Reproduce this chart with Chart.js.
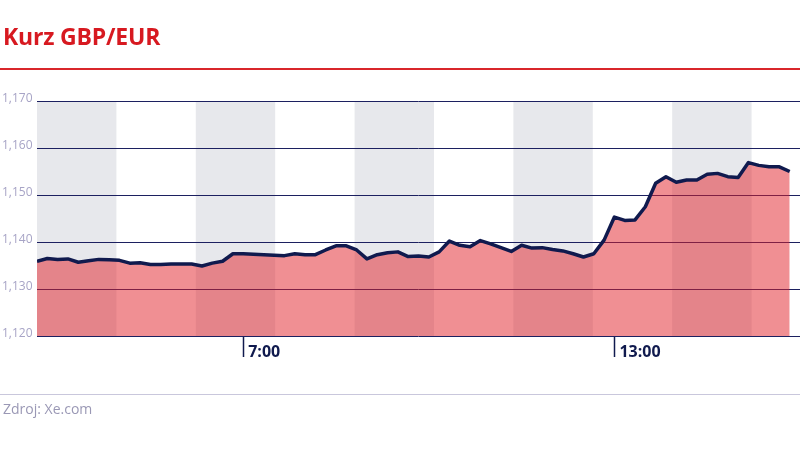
<!DOCTYPE html>
<html>
<head>
<meta charset="utf-8">
<script src="https://cdn.jsdelivr.net/npm/chart.js@4/dist/chart.umd.min.js"></script>
<style>
  html, body { margin: 0; padding: 0; background: #fff; }
  body { width: 800px; height: 449px; position: relative; overflow: hidden; font-family: "Open Sans", sans-serif; }
  #title { position: absolute; left: 3px; top: 21px; font-size: 23px; font-weight: 700; color: #d71920; letter-spacing: -0.2px; line-height: 31px; }
  #rule { position: absolute; left: 0; top: 68px; width: 800px; height: 2px; background: #d9262b; }
  #rule2 { position: absolute; left: 0; top: 394px; width: 800px; height: 1px; background: #c9c7dc; }
  #source { position: absolute; left: 3px; top: 399px; font-size: 14px; color: #9a98b5; }
  #wrap { position: absolute; left: 0; top: 0; width: 800px; height: 449px; }
</style>
</head>
<body>
<div id="wrap"><canvas id="c" width="800" height="449"></canvas></div>
<div id="title">Kurz GBP/EUR</div>
<div id="rule"></div>
<div id="rule2"></div>
<div id="source">Zdroj: Xe.com</div>
<script>
// --- data ---
const startTime = "3:40";          // first quote
const stepMinutes = 10;            // quote interval
const rates = [
  1.1359, 1.1365, 1.1363, 1.1364, 1.1357, 1.1360, 1.1363, 1.1362, 1.1361, 1.1355,
  1.1356, 1.1352, 1.1352, 1.1353, 1.1353, 1.1353, 1.1349, 1.1355, 1.1359, 1.1375,
  1.1375, 1.1374, 1.1373, 1.1372, 1.1371, 1.1375, 1.1373, 1.1373, 1.1383, 1.1392,
  1.1392, 1.1383, 1.1364, 1.1373, 1.1377, 1.1379, 1.1369, 1.1370, 1.1368, 1.1379,
  1.1402, 1.1393, 1.1390, 1.1403, 1.1396, 1.1388, 1.1380, 1.1393, 1.1387, 1.1388,
  1.1384, 1.1381, 1.1375, 1.1368, 1.1375, 1.1404, 1.1453, 1.1446, 1.1447, 1.1475,
  1.1525, 1.1539, 1.1527, 1.1532, 1.1532, 1.1544, 1.1546, 1.1539, 1.1537, 1.1569,
  1.1563, 1.1560, 1.1560, 1.1550
];
const yTicks = [1.12, 1.13, 1.14, 1.15, 1.16, 1.17];
const xTickLabels = ["7:00", "13:00"];
const axisStart = "3:40";
const axisEnd = "16:00";

// --- helpers ---
const toHours = s => { const [h, m] = s.split(":").map(Number); return h + m / 60; };
const times = rates.map((_, i) => {
  const t = toHours(startTime) * 60 + i * stepMinutes;
  return Math.floor(t / 60) + ":" + String(t % 60).padStart(2, "0");
});
const points = rates.map((v, i) => ({ x: toHours(times[i]), y: v }));

const navy = "#101a4e";
const bandHours = 1.2834;

const bandsPlugin = {
  id: "bands",
  beforeDraw(chart) {
    const { ctx, chartArea, scales } = chart;
    const xs = scales.x;
    ctx.save();
    ctx.fillStyle = "#e7e8ec";
    let start = xs.min;
    while (start < xs.max) {
      const l = xs.getPixelForValue(start);
      const r = Math.min(xs.getPixelForValue(start + bandHours), chartArea.right);
      ctx.fillRect(l, chartArea.top, r - l, chartArea.bottom - chartArea.top);
      start += 2 * bandHours;
    }
    ctx.restore();
  }
};

new Chart(document.getElementById("c"), {
  type: "line",
  data: {
    datasets: [{
      data: points,
      borderColor: navy,
      borderWidth: 3.5,
      borderJoinStyle: "round",
      backgroundColor: "rgba(226, 32, 40, 0.5)",
      fill: "start",
      pointRadius: 0,
      tension: 0
    }]
  },
  options: {
    responsive: false,
    animation: false,
    events: [],
    layout: { padding: { left: 2, right: 0, top: 101, bottom: 73 } },
    plugins: { legend: { display: false }, tooltip: { enabled: false } },
    scales: {
      x: {
        type: "linear",
        min: toHours(axisStart),
        max: toHours(axisEnd),
        afterBuildTicks: s => { s.ticks = xTickLabels.map(t => ({ value: toHours(t) })); },
        afterFit: s => { s.height = 40; },
        border: { display: false },
        grid: { drawOnChartArea: false, drawTicks: true, tickLength: 21, tickColor: navy, tickWidth: 1.5 },
        ticks: {
          autoSkip: false,
          maxRotation: 0,
          align: "start",
          labelOffset: 5,
          padding: -14,
          color: navy,
          font: { family: "Open Sans", size: 16, weight: "bold" },
          callback: (v) => xTickLabels.find(t => Math.abs(toHours(t) - v) < 1e-6) || ""
        }
      },
      y: {
        min: yTicks[0],
        max: yTicks[yTicks.length - 1],
        afterBuildTicks: s => { s.ticks = yTicks.map(v => ({ value: v })); },
        afterFit: s => { s.width = 35; },
        border: { display: false },
        grid: { color: "#1c2060", lineWidth: 1, drawTicks: false },
        ticks: {
          crossAlign: "far",
          labelOffset: -2,
          padding: 0,
          color: "#a7a4c6",
          font: { family: "Open Sans", size: 12 },
          callback: v => v.toFixed(3).replace(".", ",")
        }
      }
    }
  },
  plugins: [bandsPlugin]
});
</script>
</body>
</html>
